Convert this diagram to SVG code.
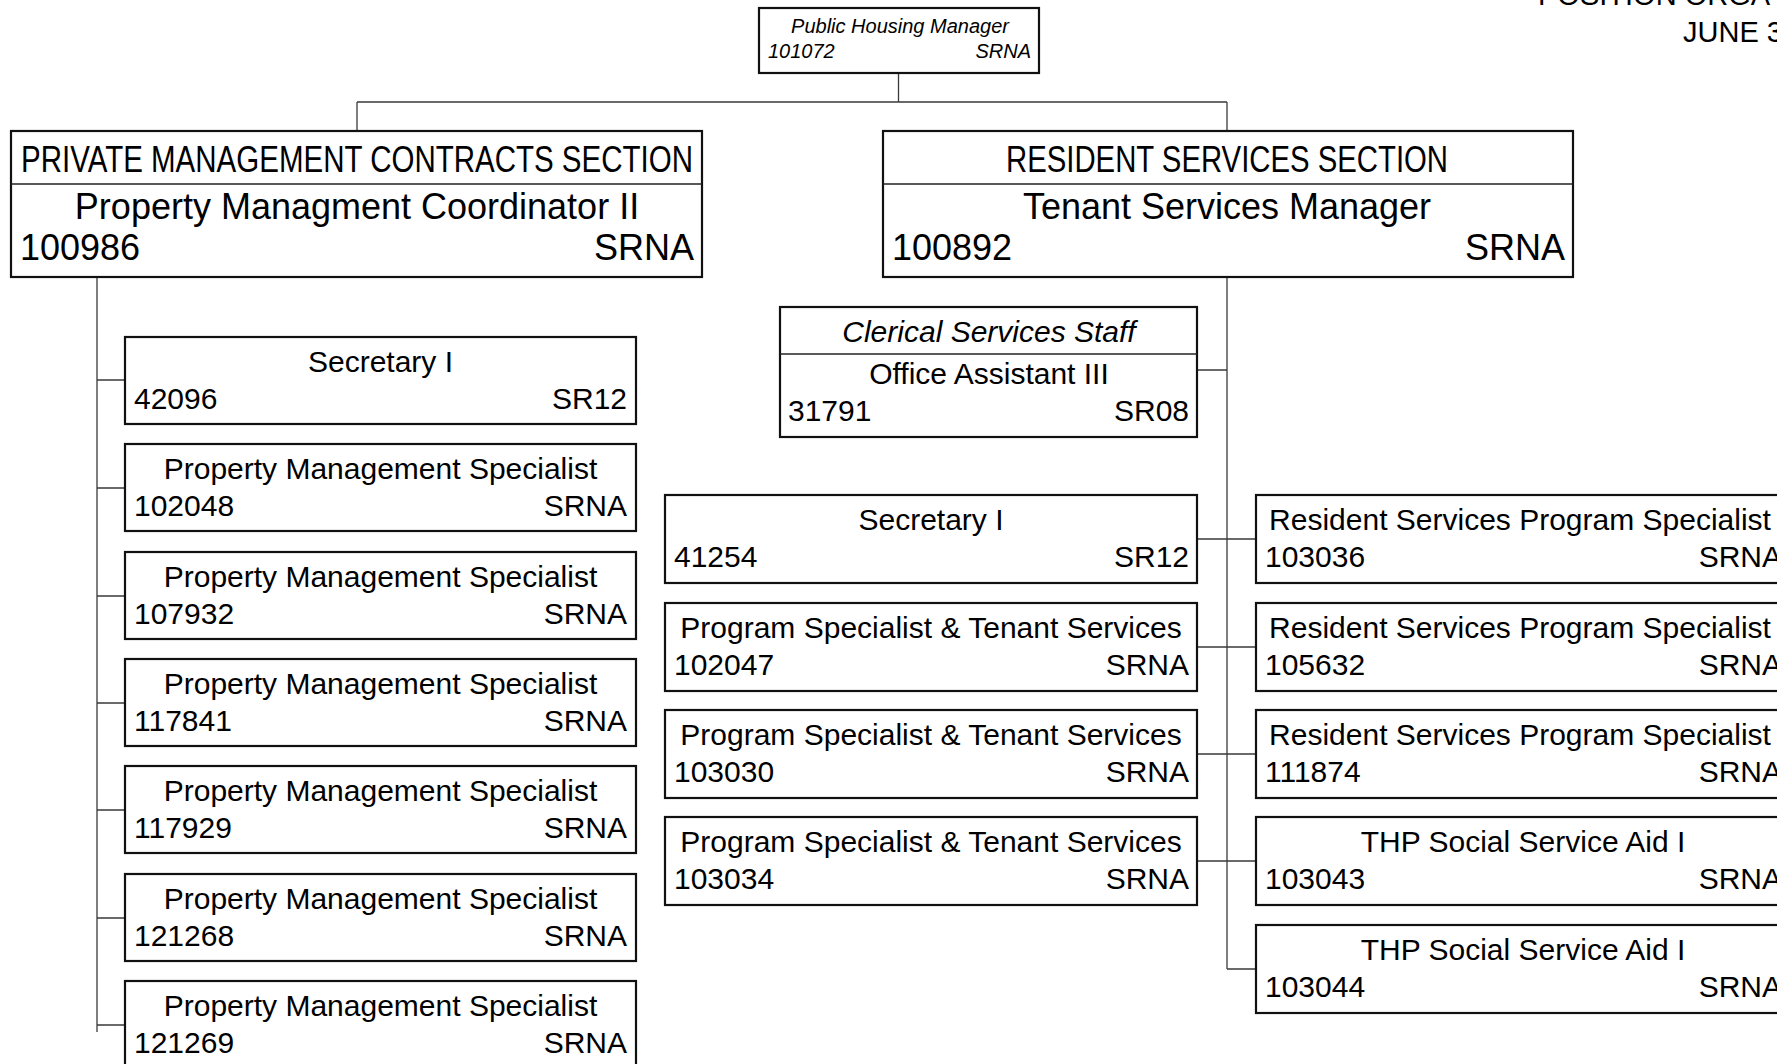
<svg xmlns="http://www.w3.org/2000/svg" width="1777" height="1064" viewBox="0 0 1777 1064">
<style>
  .box { fill: #ffffff; stroke: #111111; stroke-width: 2.2; }
  .div { stroke: #222222; stroke-width: 1.4; }
  .con { fill: none; stroke: #3a3a3a; stroke-width: 1.3; }
  text { font-family: "Liberation Sans", Arial, sans-serif; fill: #000000; }
  .t { font-size: 30px; }
  .big { font-size: 36px; }
  .hd { font-size: 36px; }
  .it { font-style: italic; }
  .sm { font-size: 20px; font-style: italic; }
  .c { text-anchor: middle; }
  .r { text-anchor: end; }
  .ttl { font-size: 29px; }
</style>
<rect x="0" y="0" width="1777" height="1064" fill="#ffffff"/>

<g id="title">
  <text class="ttl" x="1538" y="5">POSITION ORGA</text>
  <text class="ttl" x="1683" y="42">JUNE 3</text>
</g>

<g id="connectors">
  <path class="con" d="M898.5 73 V102 M357 102 H1227 M357 102 V131 M1227 102 V131"/>
  <path class="con" d="M97 277 V1032 M97 380 H125 M97 488 H125 M97 596 H125 M97 703 H125 M97 810 H125 M97 918 H125 M97 1025 H125"/>
  <path class="con" d="M1227 277 V969 M1197 370 H1227 M1197 539 H1256 M1197 647 H1256 M1197 754 H1256 M1197 861 H1256 M1227 969 H1256"/>
</g>

<g id="n-101072">
  <rect class="box" x="759" y="8" width="280" height="65"/>
  <text class="sm c" x="900" y="33">Public Housing Manager</text>
  <text class="sm" x="768" y="58">101072</text>
  <text class="sm r" x="1031" y="58">SRNA</text>
</g>

<g id="n-100986">
  <rect class="box" x="11" y="131" width="691" height="146"/>
  <line class="div" x1="11" y1="184" x2="702" y2="184"/>
  <text class="hd c" x="357" y="172" textLength="672" lengthAdjust="spacingAndGlyphs">PRIVATE MANAGEMENT CONTRACTS SECTION</text>
  <text class="big c" x="357" y="219">Property Managment Coordinator II</text>
  <text class="big" x="20" y="260">100986</text>
  <text class="big r" x="694" y="260">SRNA</text>
</g>

<g id="n-100892">
  <rect class="box" x="883" y="131" width="690" height="146"/>
  <line class="div" x1="883" y1="184" x2="1573" y2="184"/>
  <text class="hd c" x="1227" y="172" textLength="442" lengthAdjust="spacingAndGlyphs">RESIDENT SERVICES SECTION</text>
  <text class="big c" x="1227" y="219">Tenant Services Manager</text>
  <text class="big" x="892" y="260">100892</text>
  <text class="big r" x="1565" y="260">SRNA</text>
</g>

<g id="n-31791">
  <rect class="box" x="780" y="307" width="417" height="130"/>
  <line class="div" x1="780" y1="354" x2="1197" y2="354"/>
  <text class="t it c" x="989" y="342">Clerical Services Staff</text>
  <text class="t c" x="989" y="384">Office Assistant III</text>
  <text class="t" x="788" y="421">31791</text>
  <text class="t r" x="1189" y="421">SR08</text>
</g>

<g id="n-42096">
  <rect class="box" x="125" y="337" width="511" height="87"/>
  <text class="t c" x="380.5" y="372">Secretary I</text>
  <text class="t" x="134" y="409">42096</text>
  <text class="t r" x="627" y="409">SR12</text>
</g>
<g id="n-102048">
  <rect class="box" x="125" y="444" width="511" height="87"/>
  <text class="t c" x="380.5" y="479">Property Management Specialist</text>
  <text class="t" x="134" y="516">102048</text>
  <text class="t r" x="627" y="516">SRNA</text>
</g>
<g id="n-107932">
  <rect class="box" x="125" y="552" width="511" height="87"/>
  <text class="t c" x="380.5" y="587">Property Management Specialist</text>
  <text class="t" x="134" y="624">107932</text>
  <text class="t r" x="627" y="624">SRNA</text>
</g>
<g id="n-117841">
  <rect class="box" x="125" y="659" width="511" height="87"/>
  <text class="t c" x="380.5" y="694">Property Management Specialist</text>
  <text class="t" x="134" y="731">117841</text>
  <text class="t r" x="627" y="731">SRNA</text>
</g>
<g id="n-117929">
  <rect class="box" x="125" y="766" width="511" height="87"/>
  <text class="t c" x="380.5" y="801">Property Management Specialist</text>
  <text class="t" x="134" y="838">117929</text>
  <text class="t r" x="627" y="838">SRNA</text>
</g>
<g id="n-121268">
  <rect class="box" x="125" y="874" width="511" height="87"/>
  <text class="t c" x="380.5" y="909">Property Management Specialist</text>
  <text class="t" x="134" y="946">121268</text>
  <text class="t r" x="627" y="946">SRNA</text>
</g>
<g id="n-121269">
  <rect class="box" x="125" y="981" width="511" height="87"/>
  <text class="t c" x="380.5" y="1016">Property Management Specialist</text>
  <text class="t" x="134" y="1053">121269</text>
  <text class="t r" x="627" y="1053">SRNA</text>
</g>

<g id="n-41254">
  <rect class="box" x="665" y="495" width="532" height="88"/>
  <text class="t c" x="931" y="530">Secretary I</text>
  <text class="t" x="674" y="567">41254</text>
  <text class="t r" x="1189" y="567">SR12</text>
</g>
<g id="n-102047">
  <rect class="box" x="665" y="603" width="532" height="88"/>
  <text class="t c" x="931" y="638">Program Specialist &amp; Tenant Services</text>
  <text class="t" x="674" y="675">102047</text>
  <text class="t r" x="1189" y="675">SRNA</text>
</g>
<g id="n-103030">
  <rect class="box" x="665" y="710" width="532" height="88"/>
  <text class="t c" x="931" y="745">Program Specialist &amp; Tenant Services</text>
  <text class="t" x="674" y="782">103030</text>
  <text class="t r" x="1189" y="782">SRNA</text>
</g>
<g id="n-103034">
  <rect class="box" x="665" y="817" width="532" height="88"/>
  <text class="t c" x="931" y="852">Program Specialist &amp; Tenant Services</text>
  <text class="t" x="674" y="889">103034</text>
  <text class="t r" x="1189" y="889">SRNA</text>
</g>

<g id="n-103036">
  <rect class="box" x="1256" y="495" width="534" height="88"/>
  <text class="t c" x="1520" y="530">Resident Services Program Specialist</text>
  <text class="t" x="1265" y="567">103036</text>
  <text class="t r" x="1782" y="567">SRNA</text>
</g>
<g id="n-105632">
  <rect class="box" x="1256" y="603" width="534" height="88"/>
  <text class="t c" x="1520" y="638">Resident Services Program Specialist</text>
  <text class="t" x="1265" y="675">105632</text>
  <text class="t r" x="1782" y="675">SRNA</text>
</g>
<g id="n-111874">
  <rect class="box" x="1256" y="710" width="534" height="88"/>
  <text class="t c" x="1520" y="745">Resident Services Program Specialist</text>
  <text class="t" x="1265" y="782">111874</text>
  <text class="t r" x="1782" y="782">SRNA</text>
</g>
<g id="n-103043">
  <rect class="box" x="1256" y="817" width="534" height="88"/>
  <text class="t c" x="1523" y="852">THP Social Service Aid I</text>
  <text class="t" x="1265" y="889">103043</text>
  <text class="t r" x="1782" y="889">SRNA</text>
</g>
<g id="n-103044">
  <rect class="box" x="1256" y="925" width="534" height="88"/>
  <text class="t c" x="1523" y="960">THP Social Service Aid I</text>
  <text class="t" x="1265" y="997">103044</text>
  <text class="t r" x="1782" y="997">SRNA</text>
</g>
</svg>
